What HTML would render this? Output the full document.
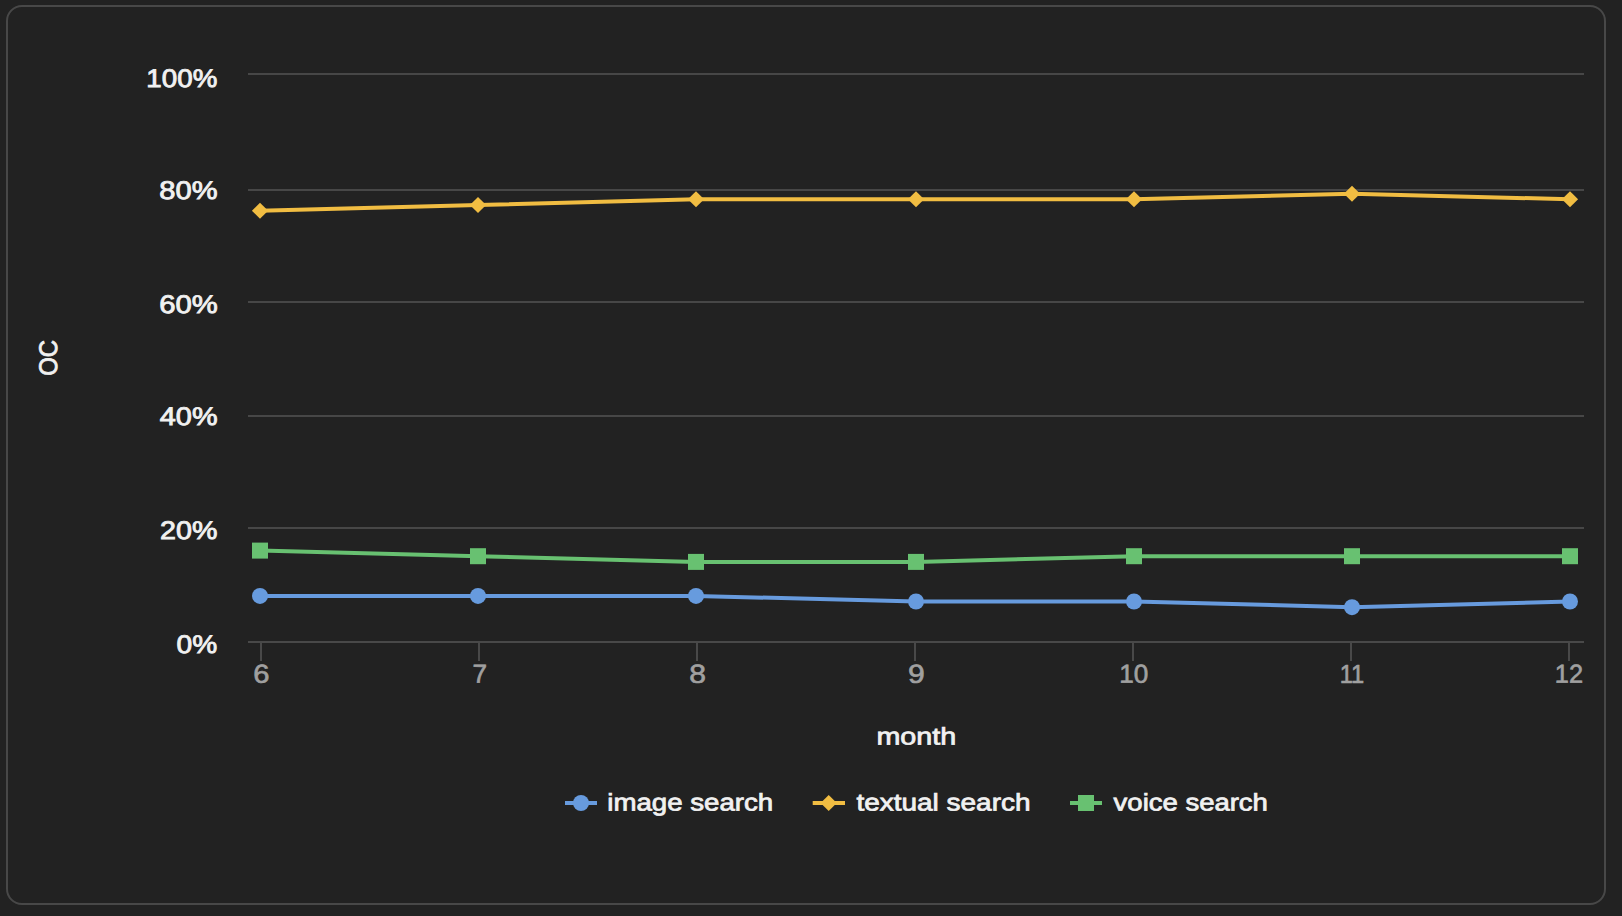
<!DOCTYPE html>
<html lang="en"><head><meta charset="utf-8"><title>OC by month</title>
<style>
html,body{margin:0;padding:0;background:#222222;}
body{width:1622px;height:916px;overflow:hidden;position:relative;font-family:"Liberation Sans",sans-serif;}
.card{position:absolute;left:6px;top:5px;width:1596px;height:896px;border:2px solid #484848;border-radius:16px;background:#222222;}
svg{position:absolute;left:0;top:0;}
text{font-family:"Liberation Sans",sans-serif;text-rendering:geometricPrecision;}
.w{fill:#f1f1f1;stroke:#f1f1f1;stroke-width:0.85px;font-size:25.5px;}
.t{fill:#f1f1f1;stroke:#f1f1f1;stroke-width:0.75px;font-size:24px;}
.g{fill:#a0a0a0;stroke:#a0a0a0;stroke-width:0.65px;font-size:26px;}
</style></head><body>
<div class="card"></div>
<svg width="1622" height="916" viewBox="0 0 1622 916">
<rect x="248" y="73" width="1336" height="2" fill="#474747"/>
<rect x="248" y="189" width="1336" height="2" fill="#474747"/>
<rect x="248" y="301" width="1336" height="2" fill="#474747"/>
<rect x="248" y="415" width="1336" height="2" fill="#474747"/>
<rect x="248" y="527" width="1336" height="2" fill="#474747"/>
<rect x="248" y="641" width="1336" height="2" fill="#494949"/>
<rect x="260" y="643" width="2" height="18" fill="#494949"/>
<rect x="478" y="643" width="2" height="18" fill="#494949"/>
<rect x="696" y="643" width="2" height="18" fill="#494949"/>
<rect x="914" y="643" width="2" height="18" fill="#494949"/>
<rect x="1132" y="643" width="2" height="18" fill="#494949"/>
<rect x="1350" y="643" width="2" height="18" fill="#494949"/>
<rect x="1568" y="643" width="2" height="18" fill="#494949"/>
<text id="y100" class="w" transform="translate(146.37,87.00) rotate(0.03) scale(1.0872,1)">100%</text>
<text id="y80" class="w" transform="translate(159.36,199.00) rotate(0.03) scale(1.1401,1)">80%</text>
<text id="y60" class="w" transform="translate(159.14,313.00) rotate(0.03) scale(1.1461,1)">60%</text>
<text id="y40" class="w" transform="translate(159.84,425.00) rotate(0.03) scale(1.1299,1)">40%</text>
<text id="y20" class="w" transform="translate(160.11,539.00) rotate(0.03) scale(1.1233,1)">20%</text>
<text id="y0" class="w" transform="translate(176.60,653.00) rotate(0.03) scale(1.1011,1)">0%</text>
<text id="x6" class="g" transform="translate(253.23,682.70) rotate(0.03) scale(1.1188,1)">6</text>
<text id="x7" class="g" transform="translate(472.55,682.70) rotate(0.03) scale(1.0050,1)">7</text>
<text id="x8" class="g" transform="translate(689.34,682.70) rotate(0.03) scale(1.1552,1)">8</text>
<text id="x9" class="g" transform="translate(908.08,682.70) rotate(0.03) scale(1.1545,1)">9</text>
<text id="x10" class="g" transform="translate(1119.21,682.70) rotate(0.03) scale(1.0035,1)">10</text>
<text id="x11" class="g" transform="translate(1339.66,682.70) rotate(0.03) scale(0.9105,1)">11</text>
<text id="x12" class="g" transform="translate(1554.81,682.70) rotate(0.03) scale(0.9752,1)">12</text>
<text id="month" class="t" transform="translate(876.40,744.40) rotate(0.03) scale(1.1953,1)">month</text>
<text id="oc" class="w" transform="translate(57.37,375.78) rotate(-90) scale(0.9358,1)">OC</text>
<text id="l1" class="t" transform="translate(607.24,810.40) rotate(0.03) scale(1.1516,1)">image search</text>
<text id="l2" class="t" transform="translate(856.45,810.40) rotate(0.03) scale(1.1647,1)">textual search</text>
<text id="l3" class="t" transform="translate(1113.60,810.40) rotate(0.03) scale(1.1452,1)">voice search</text>
<polyline points="260.0,595.9 478.0,595.9 696.0,595.9 916.0,601.5 1134.0,601.5 1352.0,607.2 1570.0,601.5" fill="none" stroke="#679bde" stroke-width="4" stroke-linejoin="round"/>
<circle cx="260.0" cy="595.9" r="8" fill="#679bde"/>
<circle cx="478.0" cy="595.9" r="8" fill="#679bde"/>
<circle cx="696.0" cy="595.9" r="8" fill="#679bde"/>
<circle cx="916.0" cy="601.5" r="8" fill="#679bde"/>
<circle cx="1134.0" cy="601.5" r="8" fill="#679bde"/>
<circle cx="1352.0" cy="607.2" r="8" fill="#679bde"/>
<circle cx="1570.0" cy="601.5" r="8" fill="#679bde"/>
<polyline points="260.0,210.7 478.0,205.0 696.0,199.3 916.0,199.3 1134.0,199.3 1352.0,193.7 1570.0,199.3" fill="none" stroke="#f1bd42" stroke-width="4" stroke-linejoin="round"/>
<path d="M251.9,210.7 L260.0,202.7 L268.1,210.7 L260.0,218.7 Z" fill="#f1bd42"/>
<path d="M469.9,205.0 L478.0,197.0 L486.1,205.0 L478.0,213.0 Z" fill="#f1bd42"/>
<path d="M687.9,199.3 L696.0,191.3 L704.1,199.3 L696.0,207.3 Z" fill="#f1bd42"/>
<path d="M907.9,199.3 L916.0,191.3 L924.1,199.3 L916.0,207.3 Z" fill="#f1bd42"/>
<path d="M1125.9,199.3 L1134.0,191.3 L1142.1,199.3 L1134.0,207.3 Z" fill="#f1bd42"/>
<path d="M1343.9,193.7 L1352.0,185.7 L1360.1,193.7 L1352.0,201.7 Z" fill="#f1bd42"/>
<path d="M1561.9,199.3 L1570.0,191.3 L1578.1,199.3 L1570.0,207.3 Z" fill="#f1bd42"/>
<polyline points="260.0,550.6 478.0,556.2 696.0,561.9 916.0,561.9 1134.0,556.2 1352.0,556.2 1570.0,556.2" fill="none" stroke="#68c171" stroke-width="4" stroke-linejoin="round"/>
<rect x="252.0" y="542.6" width="16" height="16" fill="#68c171"/>
<rect x="470.0" y="548.2" width="16" height="16" fill="#68c171"/>
<rect x="688.0" y="553.9" width="16" height="16" fill="#68c171"/>
<rect x="908.0" y="553.9" width="16" height="16" fill="#68c171"/>
<rect x="1126.0" y="548.2" width="16" height="16" fill="#68c171"/>
<rect x="1344.0" y="548.2" width="16" height="16" fill="#68c171"/>
<rect x="1562.0" y="548.2" width="16" height="16" fill="#68c171"/>
<rect x="565" y="801" width="32" height="4" fill="#679bde"/><circle cx="581" cy="803" r="8" fill="#679bde"/>
<rect x="812.7" y="801" width="32.3" height="4" fill="#f1bd42"/><path d="M820.6,803 L828.7,795.0 L836.8,803 L828.7,811.0 Z" fill="#f1bd42"/>
<rect x="1070" y="801" width="32" height="4" fill="#68c171"/><rect x="1078" y="795" width="16" height="16" fill="#68c171"/>
</svg></body></html>
